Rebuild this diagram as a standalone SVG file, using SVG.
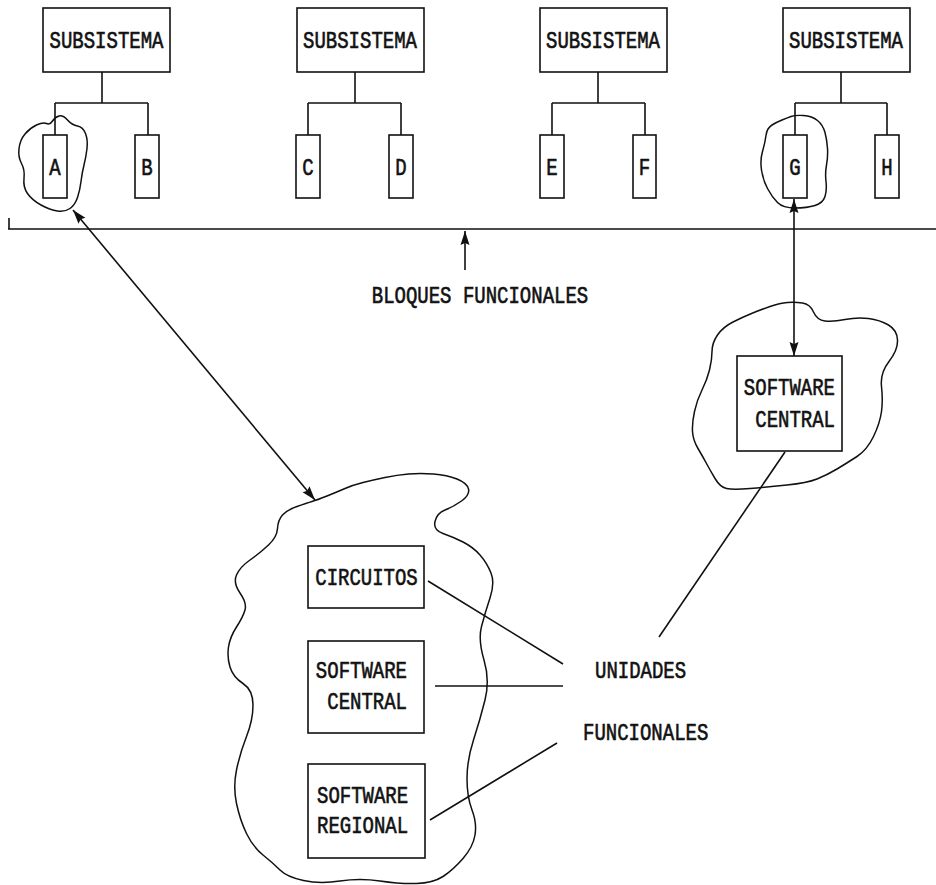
<svg xmlns="http://www.w3.org/2000/svg" width="936" height="885" viewBox="0 0 936 885">
<style>
.bx{fill:#fff;stroke:#111;stroke-width:1.6}
.ln{fill:none;stroke:#111;stroke-width:1.6}
.cl{fill:none;stroke:#111;stroke-width:1.5;stroke-linejoin:round}
.t{font-family:"Liberation Mono","Courier New",monospace;font-size:19px;font-weight:normal;fill:#111;stroke:#111;stroke-width:0.5}
.m{text-anchor:middle}
.e{text-anchor:end}
</style>
<defs>
<marker id="ah" viewBox="0 0 14 10" refX="14" refY="5" markerWidth="14" markerHeight="10" markerUnits="userSpaceOnUse" orient="auto-start-reverse">
<path d="M0,0.5 L14,5 L0,9.5 L2,5 Z" fill="#111"/>
</marker>
</defs>
<rect width="936" height="885" fill="#fff"/>

<g id="clouds">
<path class="cl" d="M 59,116 Q 63,115 67.5,120 Q 72,125 77.5,126 Q 83,127 85.5,133.5 Q 88,140 87,148.5 Q 86,157 84,165 Q 82,173 81,181.5 Q 80,190 77.5,197.5 Q 75,205 70,208.5 Q 65,212 57.5,211 Q 50,210 41,205 Q 32,200 27.5,193.5 Q 23,187 24,178.5 Q 25,170 21.5,163.5 Q 18,157 19,148.5 Q 20,140 25,134 Q 30,128 36.5,125 Q 43,122 46.5,123.5 Q 50,125 52.5,121 Q 55,117 59,116 Z"/>
<path class="cl" d="M 803.5,115.5 Q 812,116 817.5,120.5 Q 823,125 825,132.5 Q 827,140 827.5,148.5 Q 828,157 826.5,165 Q 825,173 826,181.5 Q 827,190 825,196.5 Q 823,203 815,205.5 Q 807,208 795,208 Q 783,208 777.5,202.5 Q 772,197 767.5,188.5 Q 763,180 761.5,170 Q 760,160 762.5,151.5 Q 765,143 766,135.5 Q 767,128 772,125 Q 777,122 782,120 Q 787,118 791,116.5 Q 795,115 803.5,115.5 Z"/>
<path class="cl" d="M 770,306.5 Q 780,303 787.5,302.5 Q 795,302 802.5,303 Q 810,304 813.5,312 Q 817,320 825,321 Q 833,322 845,319.5 Q 857,317 868.5,318.5 Q 880,320 888.5,325 Q 897,330 897.5,340 Q 898,350 889,361.5 Q 880,373 881.5,386.5 Q 883,400 881.5,411.5 Q 880,423 873.5,436.5 Q 867,450 857,456.5 Q 847,463 837,469 Q 827,475 817,479 Q 807,483 787,485 Q 767,487 750,488.5 Q 733,490 726.5,488.5 Q 720,487 715,478.5 Q 710,470 706.5,463.5 Q 703,457 698,448.5 Q 693,440 692.5,431.5 Q 692,423 694.5,411.5 Q 697,400 702,390 Q 707,380 709.5,370 Q 712,360 712,351.5 Q 712,343 717.5,335 Q 723,327 733,322 Q 743,317 751.5,313.5 Q 760,310 770,306.5 Z"/>
<path class="cl" d="M 327,496 Q 337,492 345,488.5 Q 353,485 363,482.5 Q 373,480 385,477.5 Q 397,475 408.5,474 Q 420,473 433.5,474 Q 447,475 457,479 Q 467,483 468.5,489 Q 470,495 461.5,501 Q 453,507 445,510 Q 437,513 435,521.5 Q 433,530 443,533.5 Q 453,537 463,542 Q 473,547 480,555 Q 487,563 491,573 Q 495,583 490,598 Q 485,613 481.5,626.5 Q 478,640 484,660 Q 490,680 485,700 Q 480,720 473.5,740 Q 467,760 467,778.5 Q 467,797 472,810 Q 477,823 475,835 Q 473,847 463,858.5 Q 453,870 443,876.5 Q 433,883 416.5,883.5 Q 400,884 380,881 Q 360,878 340,881 Q 320,884 303.5,880.5 Q 287,877 280,870 Q 273,863 263,855 Q 253,847 246.5,833.5 Q 240,820 236.5,803.5 Q 233,787 236.5,770 Q 240,753 246.5,736.5 Q 253,720 253,705 Q 253,690 243,683.5 Q 233,677 230,667 Q 227,657 228.5,647 Q 230,637 236.5,627 Q 243,617 245,610 Q 247,603 240,593 Q 233,583 236.5,575 Q 240,567 250,560 Q 260,553 268.5,545 Q 277,537 277.5,528.5 Q 278,520 282.5,515 Q 287,510 297,506.5 Q 307,503 312,501.5 Q 317,500 327,496 Z"/>
</g>

<g id="connectors">
<path class="ln" d="M102,72 V103 M55,103 H148 M55,103 V135 M148,103 V135"/>
<path class="ln" d="M355,72 V103 M308,103 H401 M308,103 V135 M401,103 V135"/>
<path class="ln" d="M598,72 V103 M552,103 H645 M552,103 V135 M645,103 V135"/>
<path class="ln" d="M841,72 V103 M795,103 H887 M795,103 V135 M887,103 V135"/>
<path class="ln" d="M8,229 H936 M9,218 V229"/>
<line class="ln" x1="465" y1="270" x2="465" y2="231" marker-end="url(#ah)"/>
<line class="ln" x1="73" y1="210" x2="315" y2="500" marker-start="url(#ah)" marker-end="url(#ah)"/>
<line class="ln" x1="794" y1="199" x2="794" y2="356" marker-start="url(#ah)" marker-end="url(#ah)"/>
<line class="ln" x1="785" y1="452" x2="659" y2="637"/>
<line class="ln" x1="428" y1="581" x2="563" y2="664"/>
<line class="ln" x1="435" y1="686" x2="563" y2="686"/>
<line class="ln" x1="430" y1="820" x2="557" y2="743"/>
</g>

<g id="sub1"><rect class="bx" x="43" y="8" width="127" height="64"/><text class="t m" transform="translate(106.5 48) scale(1 1.3)">SUBSISTEMA</text></g>
<g id="sub2"><rect class="bx" x="297" y="8" width="127" height="64"/><text class="t m" transform="translate(360 48) scale(1 1.3)">SUBSISTEMA</text></g>
<g id="sub3"><rect class="bx" x="540" y="8" width="127" height="64"/><text class="t m" transform="translate(603 48) scale(1 1.3)">SUBSISTEMA</text></g>
<g id="sub4"><rect class="bx" x="783" y="8" width="127" height="64"/><text class="t m" transform="translate(846 48) scale(1 1.3)">SUBSISTEMA</text></g>

<g id="A"><rect class="bx" x="43" y="135" width="24" height="63"/><text class="t m" transform="translate(55 175) scale(1 1.3)">A</text></g>
<g id="B"><rect class="bx" x="135" y="135" width="24" height="63"/><text class="t m" transform="translate(147 175) scale(1 1.3)">B</text></g>
<g id="C"><rect class="bx" x="296" y="135" width="24" height="63"/><text class="t m" transform="translate(308 175) scale(1 1.3)">C</text></g>
<g id="D"><rect class="bx" x="389" y="135" width="24" height="63"/><text class="t m" transform="translate(401 175) scale(1 1.3)">D</text></g>
<g id="E"><rect class="bx" x="540" y="135" width="24" height="63"/><text class="t m" transform="translate(552 175) scale(1 1.3)">E</text></g>
<g id="F"><rect class="bx" x="633" y="135" width="23" height="63"/><text class="t m" transform="translate(644.5 175) scale(1 1.3)">F</text></g>
<g id="G"><rect class="bx" x="783" y="135" width="24" height="63"/><text class="t m" transform="translate(795 175) scale(1 1.3)">G</text></g>
<g id="H"><rect class="bx" x="875" y="135" width="24" height="63"/><text class="t m" transform="translate(887 175) scale(1 1.3)">H</text></g>

<g id="bloques"><text class="t m" transform="translate(480 303) scale(1 1.3)">BLOQUES FUNCIONALES</text></g>

<g id="swcentral-top"><rect class="bx" x="737" y="356" width="105" height="95"/>
<text class="t e" transform="translate(835 395) scale(1 1.3)">SOFTWARE</text>
<text class="t e" transform="translate(835 427) scale(1 1.3)">CENTRAL</text></g>

<g id="circuitos"><rect class="bx" x="308" y="546" width="116" height="62"/><text class="t m" transform="translate(366.5 585) scale(1 1.3)">CIRCUITOS</text></g>
<g id="swcentral"><rect class="bx" x="308" y="641" width="116" height="92"/>
<text class="t e" transform="translate(407 678) scale(1 1.3)">SOFTWARE</text>
<text class="t e" transform="translate(407 709) scale(1 1.3)">CENTRAL</text></g>
<g id="swregional"><rect class="bx" x="308" y="764" width="117" height="94"/>
<text class="t" transform="translate(317 803) scale(1 1.3)">SOFTWARE</text>
<text class="t" transform="translate(317 833) scale(1 1.3)">REGIONAL</text></g>

<g id="unidades"><text class="t" transform="translate(595 678) scale(1 1.3)">UNIDADES</text>
<text class="t" transform="translate(583 740) scale(1 1.3)">FUNCIONALES</text></g>
</svg>
